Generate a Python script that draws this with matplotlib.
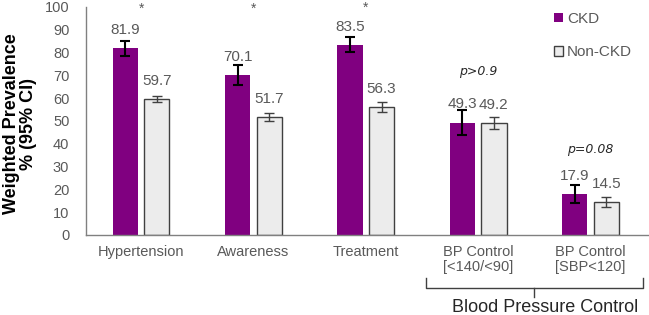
import numpy as np
import matplotlib.pyplot as plt
import matplotlib.transforms as mtransforms

plt.rcParams['font.family'] = ['Liberation Sans', 'DejaVu Sans']

# data
categories = ['Hypertension', 'Awareness', 'Treatment', 'BP Control\n[<140/<90]', 'BP Control\n[SBP<120]']
ckd = [81.9, 70.1, 83.5, 49.3, 17.9]
non_ckd = [59.7, 51.7, 56.3, 49.2, 14.5]
ckd_err = [3.3, 4.4, 3.4, 5.5, 4.0]
non_ckd_err = [1.4, 1.9, 2.2, 2.6, 2.0]
annotations = ['*', '*', '*', 'p>0.9', 'p=0.08']
annot_y = [99, 99, 99.5, 71.5, 37.5]

purple = '#800080'
light = '#ececec'
txt = '#595959'

fig = plt.figure(figsize=(6.49, 3.15), dpi=100)
ax = fig.add_axes([86 / 649, 80 / 315, 563 / 649, 228 / 315])

x = np.arange(len(categories))
w = 0.225
off = 0.14
b1 = ax.bar(x - off, ckd, w, color=purple, label='CKD', zorder=2)
b2 = ax.bar(x + off, non_ckd, w, color=light, edgecolor='#404040', linewidth=1, label='Non-CKD', zorder=2)
ax.errorbar(x - off, ckd, yerr=ckd_err, fmt='none', ecolor='black', elinewidth=1.5, capsize=3.5, capthick=1.5, zorder=3)
ax.errorbar(x + off, non_ckd, yerr=non_ckd_err, fmt='none', ecolor='#404040', elinewidth=1, capsize=3.5, capthick=1, zorder=3)

ax.bar_label(b1, labels=[f'{v:.1f}' for v in ckd], padding=8, fontsize=11, color=txt)
ax.bar_label(b2, labels=[f'{v:.1f}' for v in non_ckd], padding=8, fontsize=11, color=txt)

for i, (a, yv) in enumerate(zip(annotations, annot_y)):
    if a == '*':
        ax.text(x[i], yv, a, ha='center', va='center', fontsize=10, color=txt)
    else:
        ax.text(x[i], yv, a, ha='center', va='center', fontsize=9, color='#262626',
                style='italic', family='DejaVu Sans')

ax.set_xlim(-0.49, 4.52)
ax.set_ylim(0, 100)
ax.set_yticks(range(0, 101, 10))
ax.set_xticks(x)
ax.set_xticklabels(categories, fontsize=10.5, color=txt, linespacing=1.1)
ax.tick_params(axis='y', length=0, pad=12, labelsize=10.5, labelcolor=txt)
ax.tick_params(axis='x', length=0, pad=7)
for s in ['top', 'right']:
    ax.spines[s].set_visible(False)
for s in ['left', 'bottom']:
    ax.spines[s].set_color('#808080')
    ax.spines[s].set_linewidth(1)

fig.text(20 / 649, (315 - 124) / 315, 'Weighted Prevalence\n% (95% CI)', rotation=90,
         ha='center', va='center', fontsize=13, fontweight='bold', multialignment='center',
         linespacing=1.0)

ax.legend(loc='upper left', bbox_to_anchor=(554 / 649, 1 - 12 / 315), bbox_transform=fig.transFigure,
          frameon=False, fontsize=11, handlelength=0.6, handleheight=0.6, handletextpad=0.25,
          labelspacing=1.25, labelcolor=txt, borderaxespad=0, borderpad=0)

# bracket under the two BP control groups
tr = mtransforms.blended_transform_factory(ax.transData, fig.transFigure)
xl, xr, xm = x[3] - 0.46, x[4] + 0.47, (x[3] + x[4]) / 2
yb, yt, yd = 27 / 315, 37 / 315, 18 / 315
ax.plot([xl, xl, xr, xr], [yt, yb, yb, yt], transform=tr, color='#404040', lw=1, clip_on=False)
ax.plot([xm, xm], [yb, yd], transform=tr, color='#404040', lw=1, clip_on=False)
ax.text(xm + 0.1, 3 / 315, 'Blood Pressure Control', transform=tr, ha='center', va='baseline',
        fontsize=13, color='#262626')

fig.savefig('out.png', dpi=100)
